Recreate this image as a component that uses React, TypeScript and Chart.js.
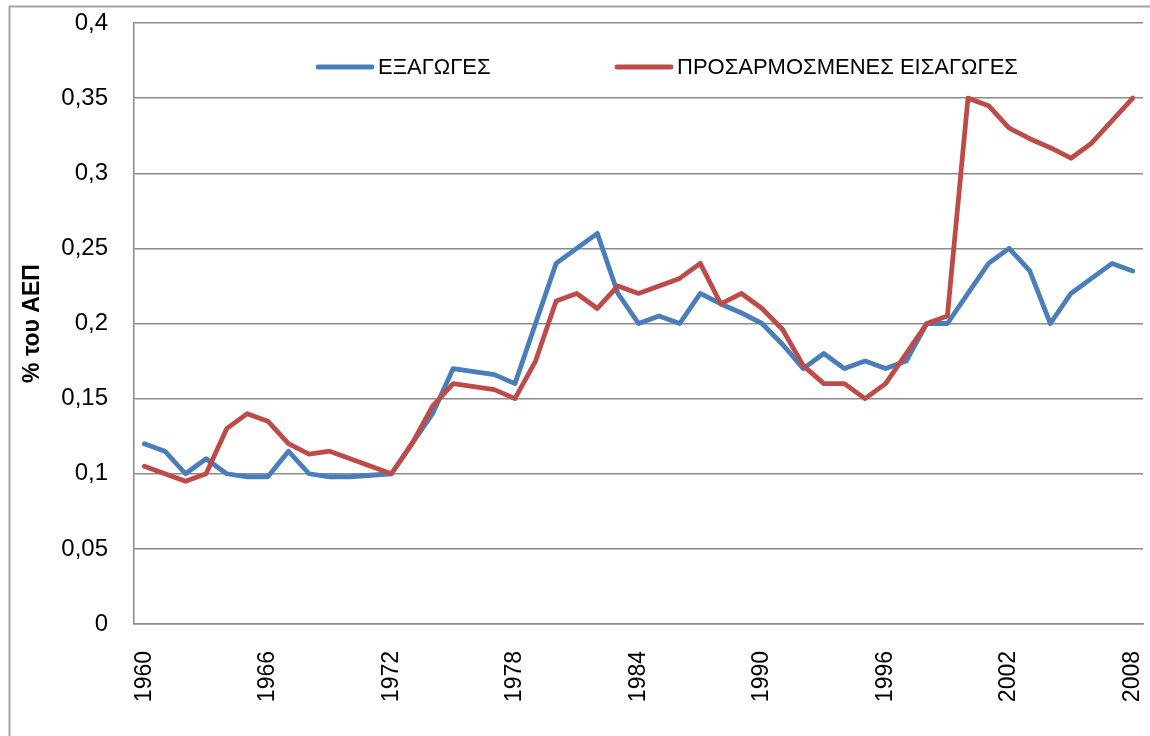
import React, { useEffect, useRef } from "react";
import { Chart, registerables } from "chart.js";

Chart.register(...registerables);

const YEARS = [
  "1960", "1961", "1962", "1963", "1964", "1965", "1966", "1967", "1968", "1969",
  "1970", "1971", "1972", "1973", "1974", "1975", "1976", "1977", "1978", "1979",
  "1980", "1981", "1982", "1983", "1984", "1985", "1986", "1987", "1988", "1989",
  "1990", "1991", "1992", "1993", "1994", "1995", "1996", "1997", "1998", "1999",
  "2000", "2001", "2002", "2003", "2004", "2005", "2006", "2007", "2008",
];

const X_TICK_LABELS = ["1960", "1966", "1972", "1978", "1984", "1990", "1996", "2002", "2008"];

const EXPORTS = [
  0.12, 0.115, 0.1, 0.11, 0.1, 0.098, 0.098, 0.115, 0.1, 0.098,
  0.098, 0.099, 0.1, 0.12, 0.14, 0.17, 0.168, 0.166, 0.16, 0.2,
  0.24, 0.25, 0.26, 0.22, 0.2, 0.205, 0.2, 0.22, 0.213, 0.207,
  0.2, 0.186, 0.17, 0.18, 0.17, 0.175, 0.17, 0.175, 0.2, 0.2,
  0.22, 0.24, 0.25, 0.235, 0.2, 0.22, 0.23, 0.24, 0.235,
];

const ADJ_IMPORTS = [
  0.105, 0.1, 0.095, 0.1, 0.13, 0.14, 0.135, 0.12, 0.113, 0.115,
  0.11, 0.105, 0.1, 0.12, 0.145, 0.16, 0.158, 0.156, 0.15, 0.175,
  0.215, 0.22, 0.21, 0.225, 0.22, 0.225, 0.23, 0.24, 0.213, 0.22,
  0.21, 0.196, 0.172, 0.16, 0.16, 0.15, 0.16, 0.18, 0.2, 0.205,
  0.35, 0.345, 0.33, 0.323, 0.317, 0.31, 0.32, 0.335, 0.35,
];

const SERIES_NAMES = ["ΕΞΑΓΩΓΕΣ", "ΠΡΟΣΑΡΜΟΣΜΕΝΕΣ ΕΙΣΑΓΩΓΕΣ"];
const Y_TITLE = "% του ΑΕΠ";

const BLUE = "#4a7ebb";
const RED = "#be4b48";
const GRID = "#8a8a8a";
const FONT = "'Liberation Sans', Arial, sans-serif";

const framePlugin = {
  id: "frame",
  beforeDraw(chart: any) {
    const ctx = chart.ctx;
    ctx.save();
    ctx.strokeStyle = "#a6a6a6";
    ctx.lineWidth = 2;
    ctx.beginPath();
    ctx.moveTo(9.5, chart.height);
    ctx.lineTo(9.5, 6.5);
    ctx.lineTo(chart.width, 6.5);
    ctx.stroke();
    ctx.restore();
  },
};

const legendPlugin = {
  id: "inlineLegend",
  afterDraw(chart: any) {
    const ctx = chart.ctx;
    const area = chart.chartArea;
    const y = area.top + 44;
    const starts = [area.left + 184, area.left + 483];
    ctx.save();
    ctx.font = `22px ${FONT}`;
    ctx.textBaseline = "middle";
    ctx.textAlign = "left";
    chart.data.datasets.forEach((ds: any, i: number) => {
      const x = starts[i];
      ctx.strokeStyle = ds.borderColor;
      ctx.lineWidth = 4.8;
      ctx.lineCap = "round";
      ctx.beginPath();
      ctx.moveTo(x, y);
      ctx.lineTo(x + 54, y);
      ctx.stroke();
      ctx.fillStyle = "#000";
      ctx.fillText(ds.label, x + 60, y + 1);
    });
    ctx.restore();
  },
};

export default function App() {
  const ref = useRef<HTMLCanvasElement | null>(null);

  useEffect(() => {
    if (!ref.current) return;
    const chart = new Chart(ref.current, {
      type: "line",
      data: {
        labels: YEARS,
        datasets: [
          {
            label: SERIES_NAMES[0],
            data: EXPORTS,
            borderColor: BLUE,
            backgroundColor: BLUE,
            borderWidth: 4.8,
            pointRadius: 0,
            tension: 0,
            borderJoinStyle: "round",
            borderCapStyle: "round",
            order: 1,
          },
          {
            label: SERIES_NAMES[1],
            data: ADJ_IMPORTS,
            borderColor: RED,
            backgroundColor: RED,
            borderWidth: 4.8,
            pointRadius: 0,
            tension: 0,
            borderJoinStyle: "round",
            borderCapStyle: "round",
            order: 0,
          },
        ],
      },
      options: {
        responsive: false,
        animation: false,
        layout: { padding: { top: 23, right: 7, left: 0, bottom: 0 } },
        plugins: {
          legend: { display: false },
          tooltip: { enabled: false },
        },
        scales: {
          x: {
            type: "category",
            offset: true,
            grid: { display: false, drawTicks: false },
            border: { display: true, color: GRID, width: 1.5 },
            ticks: {
              autoSkip: false,
              minRotation: 90,
              maxRotation: 90,
              padding: 27,
              color: "#000",
              font: { family: FONT, size: 23 },
              callback: (_v: any, idx: number) =>
                X_TICK_LABELS.includes(YEARS[idx]) ? YEARS[idx] : "",
            },
            afterFit: (scale: any) => {
              scale.height = 112;
              scale.paddingLeft = 0;
              scale.paddingRight = 0;
              scale.paddingTop = 0;
              scale.paddingBottom = 0;
            },
          },
          y: {
            min: 0,
            max: 0.4,
            grid: { color: GRID, lineWidth: 1.5, drawTicks: false },
            border: { display: true, color: GRID, width: 1.5 },
            ticks: {
              stepSize: 0.05,
              padding: 26,
              color: "#000",
              font: { family: FONT, size: 24 },
              callback: (v: any) => Number(Number(v).toFixed(2)).toString().replace(".", ","),
            },
            title: {
              display: true,
              text: Y_TITLE,
              color: "#000",
              font: { family: FONT, size: 23, weight: "bold" },
              padding: { top: 19, bottom: 0 },
            },
            afterFit: (scale: any) => {
              scale.width = 134;
              scale.paddingLeft = 0;
              scale.paddingRight = 0;
              scale.paddingTop = 0;
              scale.paddingBottom = 0;
            },
          },
        },
      },
      plugins: [framePlugin, legendPlugin],
    });
    return () => chart.destroy();
  }, []);

  return (
    <div
      style={{
        position: "absolute",
        left: 0,
        top: 0,
        width: 1150,
        height: 736,
        overflow: "hidden",
        background: "#fff",
      }}
    >
      <canvas ref={ref} width={1150} height={736} />
    </div>
  );
}
